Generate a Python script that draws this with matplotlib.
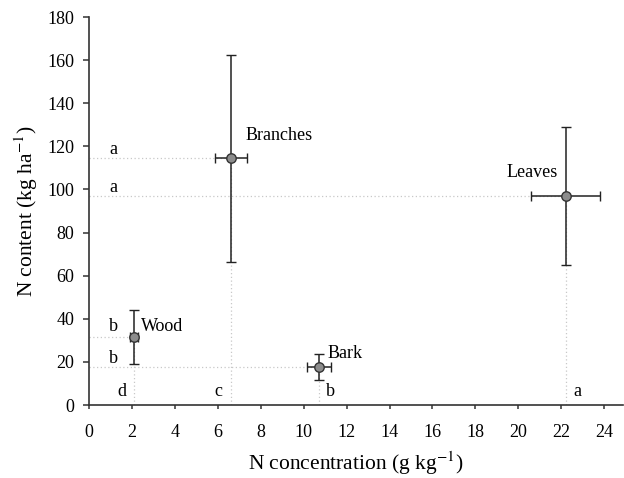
import numpy as np
import matplotlib
matplotlib.use('Agg')
import matplotlib.pyplot as plt

plt.rcParams['font.family'] = ['Liberation Serif', 'DejaVu Serif']
plt.rcParams['mathtext.fontset'] = 'stix'

# data
parts = ['Branches', 'Leaves', 'Wood', 'Bark']
n_conc = [6.6, 22.2, 2.1, 10.7]
n_conc_err = [0.75, 1.6, 0.2, 0.55]
n_content = [114.5, 97.0, 31.5, 17.5]
n_content_err = [48.0, 32.0, 12.5, 6.0]
y_letters = ['a', 'a', 'b', 'b']
x_letters = ['c', 'a', 'd', 'b']

fig = plt.figure(figsize=(6.24, 4.78), dpi=100)
ax = fig.add_axes([0.1426, 0.1527, 0.855, 0.8117])

for x, y in zip(n_conc, n_content):
    ax.plot([0, x], [y, y], ls=(0, (1, 2)), color='#c8c8c8', lw=0.9, zorder=1)
    ax.plot([x, x], [0, y], ls=(0, (1, 2)), color='#c8c8c8', lw=0.9, zorder=1)

ax.errorbar(n_conc, n_content, xerr=n_conc_err, yerr=n_content_err, fmt='o',
            color='black', ecolor='#222222', elinewidth=1.1, capsize=3.7, capthick=1.1,
            markersize=6.8, markerfacecolor='#8c8c8c', markeredgecolor='#333333',
            markeredgewidth=1.0, zorder=3)

# part labels
label_pos = {'Branches': (7.3, 121, 'left'), 'Leaves': (21.85, 104, 'right'),
             'Wood': (2.4, 32.5, 'left'), 'Bark': (11.1, 20, 'left')}
for p in parts:
    lx, ly, ha = label_pos[p]
    ax.text(lx, ly, p, fontsize=13, ha=ha, va='bottom')

# significance letters
y_let_off = [0.0, 0.0, 1.0, 0.0]
for y, t, off in zip(n_content, y_letters, y_let_off):
    ax.text(1.15, y + off, t, fontsize=13, ha='center', va='bottom')
x_let_dx = [-0.55, 0.55, -0.55, 0.55]
for x, t, dx in zip(n_conc, x_letters, x_let_dx):
    ax.text(x + dx, 2.5, t, fontsize=13, ha='center', va='bottom')

ax.set_xlim(0, 24.85)
ax.set_ylim(0, 180)
ax.set_xticks(np.arange(0, 25, 2))
ax.set_yticks(np.arange(0, 181, 20))
ax.spines['top'].set_visible(False)
ax.spines['right'].set_visible(False)
for s in ['left', 'bottom']:
    ax.spines[s].set_linewidth(1.2)
    ax.spines[s].set_color('#333333')
ax.tick_params(direction='out', width=1.1, labelsize=13, color='#333333')
ax.tick_params(axis='x', length=3, pad=11)
ax.tick_params(axis='y', length=4.5, pad=6)

ax.set_xlabel('N concentration (g kg$^{-1}$)', fontsize=15.5, labelpad=6)
ax.set_ylabel('N content (kg ha$^{-1}$)', fontsize=15.5, labelpad=5)

fig.savefig('out.png', dpi=100)
